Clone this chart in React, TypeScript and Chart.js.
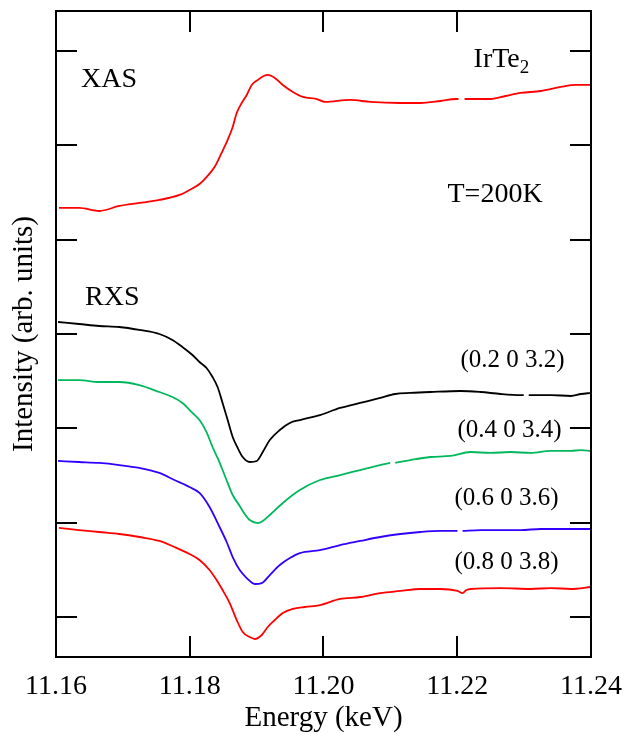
import React, { useEffect, useRef } from "react";
import { Chart, registerables } from "chart.js";

Chart.register(...registerables);

const FONT = '"Liberation Serif", "Times New Roman", serif';

// Axis ticks
const xTicks = [11.16, 11.18, 11.2, 11.22, 11.24];
const yTicks = [1, 2, 3, 4, 5, 6, 7];

// XAS spectrum
const xasEnergy = [11.16045, 11.16345, 11.16645, 11.16946, 11.17246, 11.17546, 11.17846, 11.17996, 11.18146, 11.18251, 11.18371, 11.18476, 11.18567, 11.18642, 11.18702, 11.18777, 11.18852, 11.18927, 11.19017, 11.19107, 11.19167, 11.19272, 11.19392, 11.19542, 11.19692, 11.19902, 11.20022, 11.20398, 11.20698, 11.21148, 11.21448, 11.21748, 11.21974, 11.22019, 11.22064, 11.22109, 11.22499, 11.22724, 11.22949, 11.23249, 11.2355, 11.23775, 11.24];
const xasIntensity = [5.336, 5.336, 5.304, 5.357, 5.389, 5.421, 5.474, 5.527, 5.59, 5.664, 5.77, 5.919, 6.057, 6.195, 6.343, 6.449, 6.534, 6.64, 6.693, 6.735, 6.746, 6.714, 6.64, 6.566, 6.513, 6.491, 6.46, 6.481, 6.46, 6.449, 6.449, 6.47, 6.491, 6.491, null, 6.491, 6.491, 6.523, 6.555, 6.576, 6.619, 6.64, 6.64];

// RXS (0.2 0 3.2)
const rxs02Energy = [11.1603, 11.16345, 11.16645, 11.16946, 11.17246, 11.17546, 11.17741, 11.17891, 11.18041, 11.18146, 11.18251, 11.18341, 11.18416, 11.18491, 11.18567, 11.18642, 11.18717, 11.18792, 11.18897, 11.19002, 11.19092, 11.19197, 11.19347, 11.19497, 11.19647, 11.19947, 11.20248, 11.20548, 11.20848, 11.21073, 11.21298, 11.21598, 11.22049, 11.22349, 11.22649, 11.22949, 11.22994, 11.23032, 11.23069, 11.234, 11.237, 11.2385, 11.24];
const rxs02Intensity = [4.127, 4.106, 4.085, 4.074, 4.043, 4.0, 3.937, 3.862, 3.777, 3.703, 3.64, 3.544, 3.438, 3.269, 3.088, 2.908, 2.792, 2.696, 2.643, 2.654, 2.749, 2.876, 2.982, 3.057, 3.088, 3.141, 3.216, 3.269, 3.322, 3.364, 3.375, 3.385, 3.396, 3.385, 3.364, 3.353, 3.353, null, 3.353, 3.353, 3.343, 3.364, 3.375];

// RXS (0.4 0 3.4)
const rxs04Energy = [11.1603, 11.16345, 11.16645, 11.16946, 11.17246, 11.17546, 11.17741, 11.17891, 11.18041, 11.18146, 11.18251, 11.18341, 11.18416, 11.18491, 11.18567, 11.18642, 11.18747, 11.18822, 11.18897, 11.19017, 11.19092, 11.19197, 11.19392, 11.19647, 11.19947, 11.20248, 11.20548, 11.20848, 11.20998, 11.21036, 11.21073, 11.21298, 11.21598, 11.21899, 11.22199, 11.22499, 11.22799, 11.23099, 11.234, 11.237, 11.2385, 11.24];
const rxs04Intensity = [3.512, 3.512, 3.491, 3.491, 3.459, 3.385, 3.332, 3.269, 3.163, 3.088, 2.961, 2.802, 2.686, 2.558, 2.421, 2.293, 2.177, 2.092, 2.028, 1.996, 2.018, 2.081, 2.209, 2.346, 2.452, 2.505, 2.558, 2.611, 2.633, null, 2.633, 2.664, 2.696, 2.707, 2.749, 2.739, 2.749, 2.739, 2.76, 2.76, 2.77, 2.76];

// RXS (0.6 0 3.6)
const rxs06Energy = [11.1603, 11.16345, 11.16645, 11.16946, 11.17246, 11.17546, 11.17771, 11.17996, 11.18146, 11.18296, 11.18446, 11.18552, 11.18642, 11.18747, 11.18852, 11.18972, 11.19077, 11.19197, 11.19347, 11.19497, 11.19647, 11.19947, 11.20248, 11.20548, 11.20848, 11.21148, 11.21448, 11.21748, 11.22004, 11.22041, 11.22079, 11.22349, 11.22649, 11.22949, 11.23249, 11.2355, 11.24];
const rxs06Intensity = [2.654, 2.643, 2.633, 2.611, 2.58, 2.527, 2.452, 2.378, 2.315, 2.166, 1.954, 1.795, 1.636, 1.498, 1.413, 1.35, 1.36, 1.445, 1.551, 1.625, 1.678, 1.71, 1.763, 1.806, 1.848, 1.88, 1.901, 1.912, 1.912, null, 1.912, 1.922, 1.922, 1.922, 1.933, 1.933, 1.933];

// RXS (0.8 0 3.8)
const rxs08Energy = [11.16045, 11.16345, 11.16645, 11.16946, 11.17246, 11.17546, 11.17771, 11.17996, 11.18146, 11.18296, 11.18401, 11.18491, 11.18597, 11.18702, 11.18792, 11.18897, 11.18972, 11.19077, 11.19167, 11.19272, 11.19392, 11.19542, 11.19722, 11.19947, 11.20248, 11.20548, 11.20848, 11.21148, 11.21448, 11.21748, 11.22004, 11.22079, 11.22139, 11.22199, 11.22649, 11.23099, 11.234, 11.237, 11.24];
const rxs08Intensity = [1.944, 1.922, 1.901, 1.88, 1.848, 1.806, 1.742, 1.668, 1.604, 1.498, 1.392, 1.286, 1.148, 0.968, 0.841, 0.788, 0.767, 0.809, 0.894, 0.968, 1.042, 1.085, 1.106, 1.127, 1.191, 1.212, 1.254, 1.276, 1.297, 1.297, 1.276, 1.254, 1.286, 1.297, 1.307, 1.297, 1.307, 1.297, 1.318];

// Text annotations (anchored in data coordinates)
const annotationText = ["XAS", "T=200K", "RXS", "(0.2 0 3.2)", "(0.4 0 3.4)", "(0.6 0 3.6)", "(0.8 0 3.8)"];
const annotationEnergy = [11.16375, 11.21854, 11.16435, 11.22049, 11.22004, 11.21959, 11.21959];
const annotationIntensity = [6.619, 5.399, 4.308, 3.65, 2.908, 2.187, 1.509];
const annotationSize = [28, 28, 28, 25, 25, 25, 25];
const compoundMain = "IrTe";
const compoundSub = "2";
const compoundEnergy = 11.22244;
const compoundIntensity = 6.831;

const toPoints = (xs: number[], ys: (number | null)[]) =>
  xs.map((x, i) => ({ x, y: ys[i] }));

const series = [
  { label: "XAS", xs: xasEnergy, ys: xasIntensity, color: "#ff0000" },
  { label: "(0.2 0 3.2)", xs: rxs02Energy, ys: rxs02Intensity, color: "#000000" },
  { label: "(0.4 0 3.4)", xs: rxs04Energy, ys: rxs04Intensity, color: "#00b85c" },
  { label: "(0.6 0 3.6)", xs: rxs06Energy, ys: rxs06Intensity, color: "#3300ff" },
  { label: "(0.8 0 3.8)", xs: rxs08Energy, ys: rxs08Intensity, color: "#ff0000" },
];

const framePlugin = {
  id: "frameTicks",
  afterDatasetsDraw(chart: any) {
    const { ctx, scales } = chart;
    const x = scales.x;
    const y = scales.y;
    ctx.save();
    ctx.fillStyle = "#000";
    ctx.textAlign = "left";
    ctx.textBaseline = "alphabetic";
    annotationText.forEach((t, i) => {
      ctx.font = `${annotationSize[i]}px ${FONT}`;
      ctx.fillText(t, x.getPixelForValue(annotationEnergy[i]), y.getPixelForValue(annotationIntensity[i]));
    });
    const cx = x.getPixelForValue(compoundEnergy);
    const cy = y.getPixelForValue(compoundIntensity);
    ctx.font = `28px ${FONT}`;
    ctx.fillText(compoundMain, cx, cy);
    const w = ctx.measureText(compoundMain).width;
    ctx.font = `19px ${FONT}`;
    ctx.fillText(compoundSub, cx + w, cy + 6);
    ctx.restore();
  },
  afterDraw(chart: any) {
    const { ctx, chartArea, scales } = chart;
    const { left, right, top, bottom } = chartArea;
    const len = 21;
    ctx.save();
    ctx.strokeStyle = "#000";
    ctx.lineWidth = 2;
    ctx.beginPath();
    xTicks.forEach((v) => {
      const px = Math.round(scales.x.getPixelForValue(v));
      ctx.moveTo(px, bottom);
      ctx.lineTo(px, bottom - len);
      ctx.moveTo(px, top);
      ctx.lineTo(px, top + len);
    });
    yTicks.forEach((v) => {
      const py = Math.round(scales.y.getPixelForValue(v));
      ctx.moveTo(left, py);
      ctx.lineTo(left + len, py);
      ctx.moveTo(right, py);
      ctx.lineTo(right - len, py);
    });
    ctx.stroke();
    ctx.strokeRect(left, top, right - left, bottom - top);
    ctx.restore();
  },
};

export default function App() {
  const ref = useRef<HTMLCanvasElement | null>(null);

  useEffect(() => {
    if (!ref.current) return;
    const chart = new Chart(ref.current, {
      type: "line",
      data: {
        datasets: series.map((s) => ({
          label: s.label,
          data: toPoints(s.xs, s.ys),
          borderColor: s.color,
          backgroundColor: s.color,
          borderWidth: 1.8,
          pointRadius: 0,
          cubicInterpolationMode: "monotone" as const,
          spanGaps: false,
        })),
      },
      options: {
        animation: false,
        responsive: false,
        devicePixelRatio: 1,
        layout: { padding: { top: 11, right: 36, left: 0, bottom: 0 } },
        plugins: { legend: { display: false }, tooltip: { enabled: false } },
        scales: {
          x: {
            type: "linear",
            min: 11.16,
            max: 11.24,
            afterBuildTicks: (s: any) => {
              s.ticks = xTicks.map((v) => ({ value: v }));
            },
            afterFit: (s: any) => {
              s.height = 77;
              s.paddingLeft = 0;
              s.paddingRight = 0;
            },
            grid: { display: false, drawTicks: false },
            border: { display: false },
            ticks: {
              padding: 13,
              color: "#000",
              autoSkip: false,
              maxRotation: 0,
              font: { family: FONT, size: 28 },
              callback: (v: any) => Number(v).toFixed(2),
            },
            title: {
              display: true,
              text: "Energy (keV)",
              color: "#000",
              font: { family: FONT, size: 29, lineHeight: 1 },
              padding: { top: 0, bottom: 1 },
            },
          },
          y: {
            type: "linear",
            min: 0.576,
            max: 7.424,
            afterBuildTicks: (s: any) => {
              s.ticks = yTicks.map((v) => ({ value: v }));
            },
            afterFit: (s: any) => {
              s.width = 56;
              s.paddingTop = 0;
              s.paddingBottom = 0;
            },
            grid: { display: false, drawTicks: false },
            border: { display: false },
            ticks: { display: false },
            title: {
              display: true,
              text: "Intensity (arb. units)",
              color: "#000",
              font: { family: FONT, size: 29, lineHeight: 1 },
              padding: { top: 10, bottom: 0 },
            },
          },
        },
      },
      plugins: [framePlugin],
    });
    return () => chart.destroy();
  }, []);

  return (
    <div style={{ position: "fixed", left: 0, top: 0, width: 627, height: 734, background: "#fff" }}>
      <canvas ref={ref} width={627} height={734} style={{ display: "block" }} />
    </div>
  );
}
